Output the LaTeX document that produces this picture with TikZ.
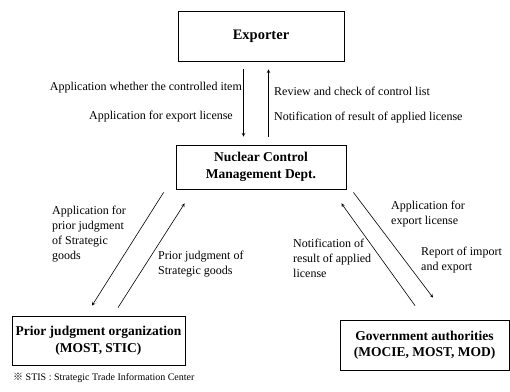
\documentclass[tikz,border=0pt]{standalone}
\usepackage{fontspec}
\setmainfont{Liberation Serif}
\newfontfamily\markfont{Noto Sans CJK SC}
\begin{document}
\begin{tikzpicture}[x=1pt,y=-1pt,>=stealth,
	box/.style={draw,line width=0.8pt,align=center,inner sep=0pt,font=\fontsize{13.5}{16.5}\selectfont\bfseries},
	lbl/.style={align=left,inner sep=0pt,font=\fontsize{12}{15}\selectfont},
	flow/.style={->,line width=0.6pt}]
	\useasboundingbox (0,0) rectangle (510,391);
	% boxes
	\node[box,minimum width=166pt,minimum height=50pt] (ex) at (261,36) {\fontsize{14.5}{17}\selectfont Exporter};
	\node[box,minimum width=170pt,minimum height=44pt] (ncmd) at (261,167) {Nuclear Control\\Management Dept.};
	\node[box,minimum width=173pt,minimum height=49pt] (prior) at (98.5,340.5) {Prior judgment organization\\(MOST, STIC)};
	\node[box,minimum width=169pt,minimum height=50pt] (gov) at (424.5,345) {Government authorities\\(MOCIE, MOST, MOD)};
	% exporter <-> dept
	\draw[flow,shorten <=8pt,shorten >=8pt] ([xshift=-17.5pt]ex.south)--([xshift=-17.5pt]ncmd.north);
	\draw[flow,shorten <=8pt,shorten >=8pt] ([xshift=7.5pt]ncmd.north)--([xshift=7.5pt]ex.south);
	\node[lbl,anchor=east] (l1) at (242,88) {Application whether the controlled item};
	\node[lbl,anchor=east] (l2) at (233,117) {Application for export license};
	\node[lbl,anchor=west] (l3) at (274,91) {Review and check of control list};
	\node[lbl,anchor=west] (l4) at (274,118) {Notification of result of applied license};
	% dept <-> prior judgment
	\draw[flow] ([shift={(-12pt,-3pt)}]ncmd.south west)--([shift={(-6.5pt,10pt)}]prior.north);
	\draw[flow] ([shift={(19.5pt,8pt)}]prior.north)--([shift={(9pt,-14pt)}]ncmd.south west);
	\node[lbl,anchor=west] (l5) at (52,234) {Application for\\prior judgment\\of Strategic\\goods};
	\node[lbl,anchor=west] (l6) at (158,264) {Prior judgment of\\Strategic goods};
	% dept <-> government
	\draw[flow] ([shift={(7pt,-3pt)}]ncmd.south east)--([shift={(8.5pt,22pt)}]gov.north);
	\draw[flow] ([shift={(-9.5pt,14pt)}]gov.north)--([shift={(-5pt,-14pt)}]ncmd.south east);
	\node[lbl,anchor=west] (l7) at (293,258) {Notification of\\result of applied\\license};
	\node[lbl,anchor=west] (l8) at (391,214) {Application for\\export license};
	\node[lbl,anchor=west] (l9) at (421,260) {Report of import\\and export};
	% note
	\node[lbl,anchor=west,font=\fontsize{10}{12}\selectfont] (note) at (13,378) {{\markfont ※} STIS : Strategic Trade Information Center};
\end{tikzpicture}
\end{document}
